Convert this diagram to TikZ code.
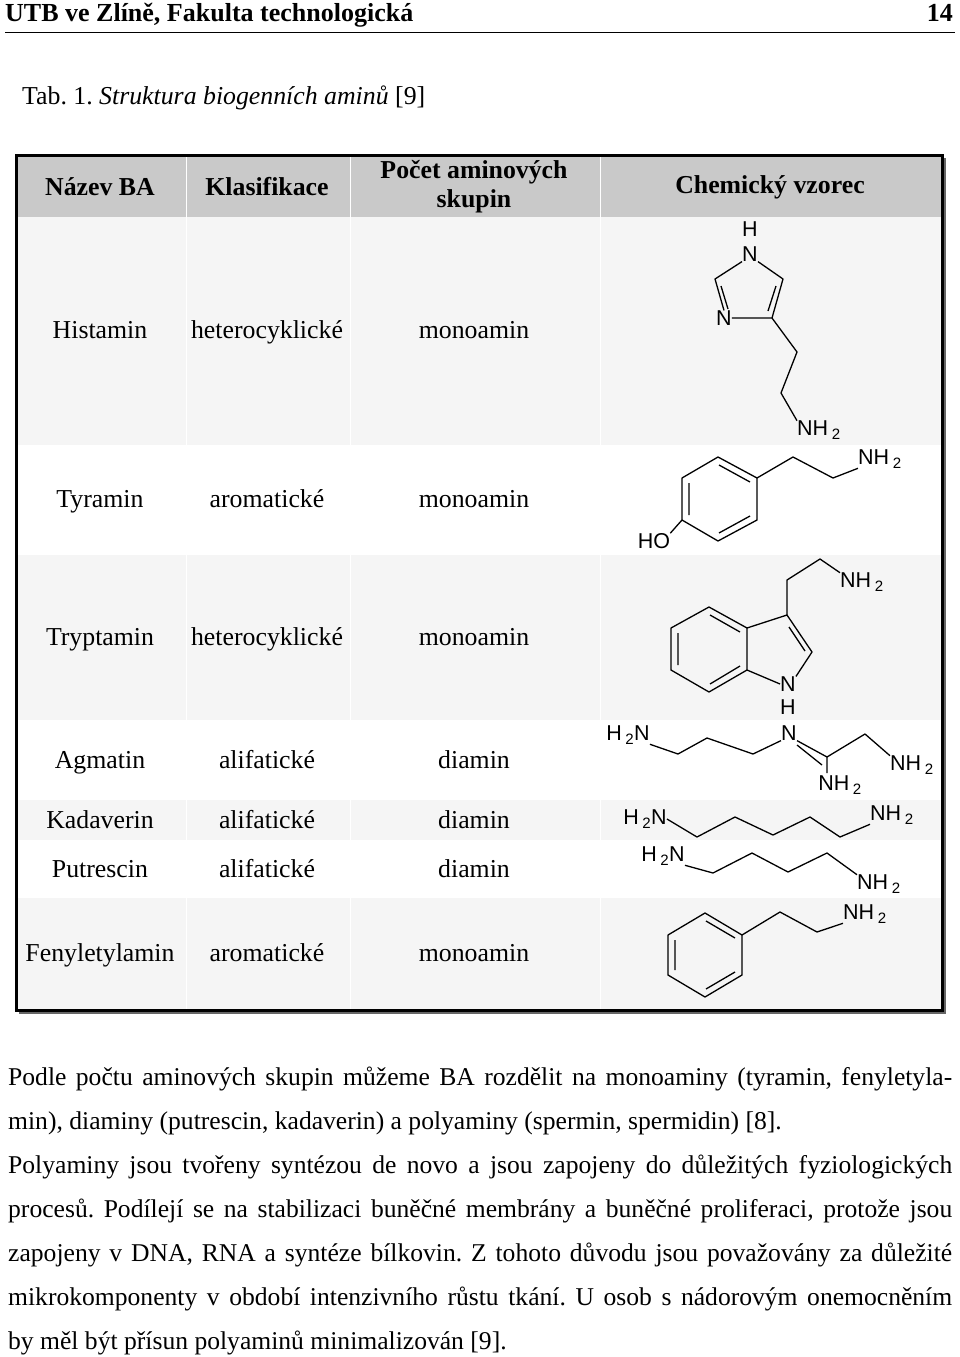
\documentclass[tikz,border=0pt]{standalone}
\usepackage{fontspec}
\setmainfont{Liberation Serif}
\newfontfamily\chemf{Liberation Sans}
\frenchspacing
\begin{document}
\begin{tikzpicture}[x=1pt,y=-1pt,
  cell/.style={font=\fontsize{25.8}{30}\selectfont,align=center},
  hcell/.style={font=\bfseries\fontsize{25.8}{29}\selectfont,align=center},
  bond/.style={line width=1.3pt,line join=round},
  atom/.style={font=\chemf\fontsize{21.5}{22}\selectfont,inner sep=0pt},
  bodyl/.style={anchor=base west,inner sep=0pt,font=\fontsize{25.6}{30}\selectfont}]
\useasboundingbox (0,0) rectangle (960,1357);
% page header
\node[anchor=base west,inner sep=0pt,font=\bfseries\fontsize{26}{30}\selectfont] (ph) at (5,21) {UTB ve Zlíně, Fakulta technologická};
\node[anchor=base east,inner sep=0pt,font=\bfseries\fontsize{26}{30}\selectfont] (pn) at (953,21) {14};
\draw[line width=0.6pt] (5,32) -- (955,32);
\node[anchor=base west,inner sep=0pt,font=\fontsize{25.8}{30}\selectfont] (cap) at (22,104) {Tab. 1. \textit{Struktura biogenních aminů} [9]};
% table backgrounds
\fill[black!21] (16,155) rectangle (942,217);
\fill[black!4] (16,217) rectangle (942,445);
\fill[black!4] (16,555) rectangle (942,720);
\fill[black!4] (16,800) rectangle (942,840);
\fill[black!4] (16,898) rectangle (942,1010);
\draw[white,line width=0.8pt] (186,155)--(186,1010) (350,155)--(350,1010) (600,155)--(600,1010);
\draw[line width=3pt] (16,155) rectangle (942,1010);
\draw[line width=2pt,black!60] (945,158)--(945,1013)--(19,1013);
% header
\node[hcell] (h1) at (100,187) {Název BA};
\node[hcell] (h2) at (267,187) {Klasifikace};
\node[hcell,font=\bfseries\fontsize{25.8}{29}\selectfont] (h3) at (474,187) {Počet aminových\\skupin};
\node[hcell] (h4) at (770,187) {Chemický vzorec};
% rows
\foreach \n/\k/\p/\y [count=\i] in {Histamin/heterocyklické/monoamin/330,Tyramin/aromatické/monoamin/499,Tryptamin/heterocyklické/monoamin/637,Agmatin/alifatické/diamin/760,Kadaverin/alifatické/diamin/820,Putrescin/alifatické/diamin/869,Fenyletylamin/aromatické/monoamin/953}{
  \node[cell,anchor=base] (n\i) at (100,\y+8) {\n};
  \node[cell,anchor=base] (k\i) at (267,\y+8) {\k};
  \node[cell,anchor=base] (p\i) at (474,\y+8) {\p};
}
% Histamine
\node[atom] (hH) at (750,229) {H};
\node[atom] (hN1) at (750,254) {N};
\node[atom] (hN3) at (724,318) {N};
\coordinate (hC2) at (715,279);
\coordinate (hC4) at (772,318);
\coordinate (hC5) at (783,279);
\draw[bond] (hN1.south west) -- (hC2) -- (hN3.north);
\draw[bond] (hN1.south east) -- (hC5) -- (hC4) -- (hN3.east);
\draw[bond] (721,286) -- (728,309);
\draw[bond] (776,286) -- (768,311);
\coordinate (hA) at (797,352); \coordinate (hB) at (781,393);
\node[atom,anchor=west] (hNH) at (797,430) {NH\,\textsubscript{2}};
\draw[bond] (hC4) -- (hA) -- (hB) -- (hNH.north west);
% Tyramine
\coordinate (t1) at (718,457); \coordinate (t2) at (757,478); \coordinate (t3) at (757,520);
\coordinate (t4) at (718,541); \coordinate (t5) at (682,520); \coordinate (t6) at (682,478);
\draw[bond] (t1)--(t2)--(t3)--(t4)--(t5)--(t6)--cycle;
\draw[bond] (689,483)--(689,515) (719,465)--(750,482) (719,533)--(750,516);
\node[atom] (tHO) at (654,541) {HO};
\draw[bond] (t5) -- (tHO.north east);
\coordinate (tA) at (793,457); \coordinate (tB) at (833,478);
\node[atom,anchor=west] (tNH) at (858,459) {NH\,\textsubscript{2}};
\draw[bond] (t2)--(tA)--(tB)--(tNH.south west);
% Tryptamine
\coordinate (i1) at (709,607); \coordinate (i2) at (747,628); \coordinate (i3) at (747,670);
\coordinate (i4) at (709,692); \coordinate (i5) at (671,670); \coordinate (i6) at (671,628);
\draw[bond] (i1)--(i2)--(i3)--(i4)--(i5)--(i6)--cycle;
\draw[bond] (678,633)--(678,665) (710,615)--(740,632) (710,684)--(740,666);
\coordinate (iC3) at (787,615); \coordinate (iC2) at (812,652);
\node[atom] (iN) at (788,684) {N};
\node[atom] (iH) at (788,707) {H};
\draw[bond] (i2)--(iC3)--(iC2)--(iN.north east) (iN.west)--(i3);
\draw[bond] (789,627)--(805,651);
\coordinate (iA) at (787,580); \coordinate (iB) at (820,559);
\node[atom,anchor=west] (iNH) at (840,582) {NH\,\textsubscript{2}};
\draw[bond] (iC3)--(iA)--(iB)--(iNH.north west);
% Agmatine
\node[atom] (aH2N) at (628,735) {H\,\textsubscript{2}N};
\node[atom] (aN) at (789,733) {N};
\coordinate (a1) at (678,754); \coordinate (a2) at (707,738); \coordinate (a3) at (753,754);
\coordinate (aC) at (827,757);
\node[atom] (aNH1) at (840,785) {NH\,\textsubscript{2}};
\coordinate (aD) at (865,734);
\node[atom,anchor=west] (aNH2) at (890,765) {NH\,\textsubscript{2}};
\draw[bond] (aH2N.south east)--(a1)--(a2)--(a3)--(aN.south west);
\draw[bond] (aN.south east)--(aC) (797,745)--(822,765);
\draw[bond] (aC)--(827,773) (aC)--(aD)--(aNH2.north west);
% Cadaverine
\node[atom] (cH2N) at (645,819) {H\,\textsubscript{2}N};
\node[atom,anchor=west] (cNH) at (870,815) {NH\,\textsubscript{2}};
\draw[bond] (cH2N.east)--(697,837)--(735,817)--(773,835)--(810,817)--(840,837)--(cNH.south west);
% Putrescine
\node[atom] (pH2N) at (663,856) {H\,\textsubscript{2}N};
\node[atom,anchor=west] (pNH) at (857,884) {NH\,\textsubscript{2}};
\draw[bond] (pH2N.south east)--(713,873)--(752,853)--(788,872)--(827,853)--(pNH.north west);
% Phenethylamine
\coordinate (f1) at (705,913); \coordinate (f2) at (742,935); \coordinate (f3) at (742,975);
\coordinate (f4) at (705,997); \coordinate (f5) at (668,975); \coordinate (f6) at (668,935);
\draw[bond] (f1)--(f2)--(f3)--(f4)--(f5)--(f6)--cycle;
\draw[bond] (675,940)--(675,970) (706,921)--(735,938) (706,989)--(735,972);
\coordinate (fA) at (780,912); \coordinate (fB) at (817,932);
\node[atom,anchor=west] (fNH) at (843,914) {NH\,\textsubscript{2}};
\draw[bond] (f2)--(fA)--(fB)--(fNH.south west);
% body text
\node[bodyl] (b1) at (8,1085) {\makebox[944pt][s]{Podle počtu aminových skupin můžeme BA rozdělit na monoaminy (tyramin, fenyletyla-}};
\node[bodyl] (b2) at (8,1129) {min), diaminy (putrescin, kadaverin) a polyaminy (spermin, spermidin) [8].};
\node[bodyl] (b3) at (8,1173) {\makebox[944pt][s]{Polyaminy jsou tvořeny syntézou de novo a jsou zapojeny do důležitých fyziologických}};
\node[bodyl] (b4) at (8,1217) {\makebox[944pt][s]{procesů. Podílejí se na stabilizaci buněčné membrány a buněčné proliferaci, protože jsou}};
\node[bodyl] (b5) at (8,1261) {\makebox[944pt][s]{zapojeny v DNA, RNA a syntéze bílkovin. Z tohoto důvodu jsou považovány za důležité}};
\node[bodyl] (b6) at (8,1305) {\makebox[944pt][s]{mikrokomponenty v období intenzivního růstu tkání. U osob s nádorovým onemocněním}};
\node[bodyl] (b7) at (8,1349) {by měl být přísun polyaminů minimalizován [9].};
\end{tikzpicture}
\end{document}
